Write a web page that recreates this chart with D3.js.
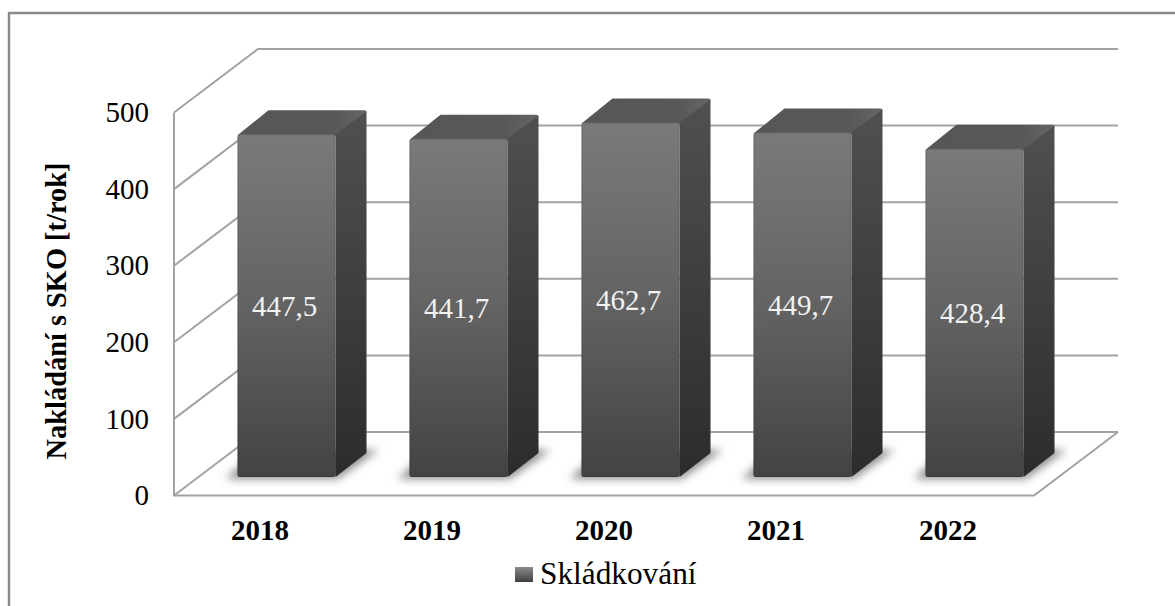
<!DOCTYPE html>
<html><head><meta charset="utf-8">
<script src="https://cdn.jsdelivr.net/npm/d3@7"></script>
<style>html,body{margin:0;padding:0;background:#fff;overflow:hidden}svg{display:block}text{font-family:"Liberation Serif",serif}</style>
</head><body><svg id="c" width="1175" height="606"></svg>
<script>
const years = ["2018","2019","2020","2021","2022"];
const values = [447.5,441.7,462.7,449.7,428.4];
const valueLabels = ["447,5","441,7","462,7","449,7","428,4"];
const yTicks = [0,100,200,300,400,500];
const seriesName = "Skládkování";
const yTitle = "Nakládání s SKO [t/rok]";

const svg = d3.select("#c");
const W = 1175, H = 606;
const left = 174, right = 1034, floorY = 495.5, topY = 112.5;
const depth = {dx:84, dy:-63.5};      // plot box depth
const barDepth = {dx:31, dy:-24};     // bar depth
const barOffset = {dx:26.5, dy:-18.5};  // front of bar vs front of box

const y = d3.scaleLinear().domain([0,500]).range([floorY, topY]);
const xAxisScale = d3.scaleBand().domain(years).range([left,right]);
const x = d3.scaleBand().domain(years).range([left+barOffset.dx, right+barOffset.dx]).paddingInner(0.43).paddingOuter(0.215);

const defs = svg.append("defs");
function grad(id, stops, x2=0, y2=1){
  const g = defs.append("linearGradient").attr("id",id).attr("x1",0).attr("y1",0).attr("x2",x2).attr("y2",y2);
  stops.forEach(s=>g.append("stop").attr("offset",s[0]).attr("stop-color",s[1]));
}
grad("front",[[0,"#7a7a7a"],[0.5,"#636363"],[1,"#434343"]]);
grad("side",[[0,"#505050"],[1,"#2c2c2c"]]);
grad("top",[[0,"#565656"],[0.75,"#585858"],[1,"#666"]],1,0);
grad("sw",[[0,"#8a8a8a"],[0.45,"#6a6a6a"],[1,"#3e3e3e"]]);
defs.append("filter").attr("id","blur").attr("x","-20%").attr("y","-50%").attr("width","140%").attr("height","200%")
  .append("feGaussianBlur").attr("stdDeviation",4);

// outer frame
svg.append("path").attr("d",`M9,${H}V13H${W}`).attr("fill","none").attr("stroke","#8a8a8a").attr("stroke-width",2.4);

// gridlines
const gridCol = "#a3a3a3";
const grid = svg.append("g").attr("fill","none").attr("stroke",gridCol).attr("stroke-width",2);
grid.selectAll("path.g").data(yTicks).join("path").attr("class","g")
  .attr("d",v=>`M${left},${y(v)}L${left+depth.dx},${y(v)+depth.dy}H${right+depth.dx}`);
grid.append("path").attr("d",`M${left},${y(500)}V${y(0)}H${right}L${right+depth.dx},${y(0)+depth.dy}`);

// bars
const bars = svg.append("g").selectAll("g").data(years.map((k,i)=>({k,v:values[i],l:valueLabels[i]}))).join("g");
const by = v => y(v)+barOffset.dy;
const w = x.bandwidth();
bars.append("path").attr("fill","#8c8c8c").attr("filter","url(#blur)").attr("d",d=>{
  const a=x(d.k), b=by(0);
  return `M${a-12},${b+2}H${a+w+2}L${a+w+barDepth.dx+12},${b+barDepth.dy-3}H${a+20}Z`;
});
bars.append("path").attr("fill","url(#top)").attr("d",d=>{
  const a=x(d.k), t=by(d.v);
  return `M${a},${t+1}L${a+barDepth.dx},${t+barDepth.dy}H${a+w+barDepth.dx-2}Q${a+w+barDepth.dx},${t+barDepth.dy} ${a+w+barDepth.dx},${t+barDepth.dy+2}L${a+w},${t+2}Z`;
});
bars.append("path").attr("fill","url(#side)").attr("d",d=>{
  const a=x(d.k)+w, t=by(d.v), b=by(0);
  return `M${a},${t}L${a+barDepth.dx},${t+barDepth.dy+1}V${b+barDepth.dy}L${a},${b}Z`;
});
bars.append("rect").attr("x",d=>x(d.k)).attr("y",d=>by(d.v)).attr("width",w).attr("height",d=>by(0)-by(d.v))
  .attr("rx",2.5).attr("fill","url(#front)");
bars.append("rect").attr("x",d=>x(d.k)+0.5).attr("y",d=>by(d.v)+0.5).attr("width",w-1).attr("height",d=>by(0)-by(d.v)-1)
  .attr("rx",2).attr("fill","none").attr("stroke","#000").attr("stroke-opacity",0.14);
bars.append("text").attr("x",d=>x(d.k)+w/2-2).attr("y",d=>(by(d.v)+by(0))/2+10)
  .attr("text-anchor","middle").attr("fill","#f2f2f2").attr("font-size",29).text(d=>d.l);

// axes
const ya = svg.append("g").attr("transform","translate(157,0)").call(d3.axisLeft(y).tickValues(yTicks).tickSize(0).tickPadding(8));
ya.select(".domain").remove();
ya.selectAll("text").attr("font-size",29).attr("fill","#000").style("font-family",'"Liberation Serif",serif');
const xa = svg.append("g").attr("transform","translate(0,519)").call(d3.axisBottom(xAxisScale).tickSize(0).tickPadding(0));
xa.select(".domain").remove();
xa.selectAll("text").attr("font-size",29).attr("font-weight","bold").attr("fill","#000").style("font-family",'"Liberation Serif",serif');

// y title
svg.append("text").attr("transform","translate(66,311) rotate(-90)").attr("text-anchor","middle")
  .attr("font-size",28.4).attr("font-weight","bold").attr("fill","#000").text(yTitle);

// legend
svg.append("rect").attr("x",515).attr("y",567).attr("width",18).attr("height",15).attr("fill","url(#sw)");
svg.append("text").attr("x",540).attr("y",584).attr("font-size",31.3).attr("fill","#000").text(seriesName);
</script></body></html>
